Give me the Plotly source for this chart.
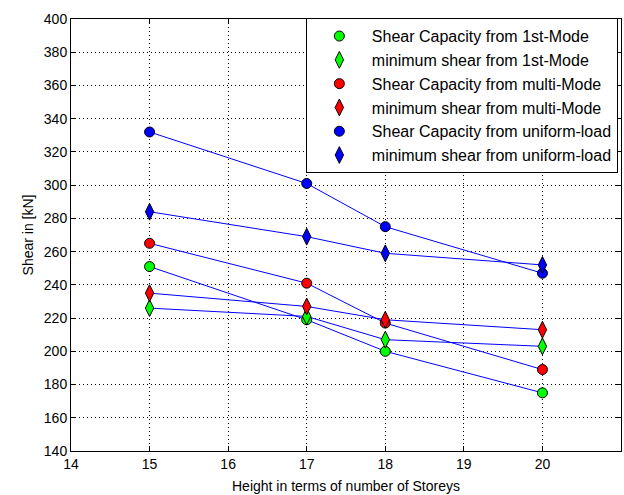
import plotly.graph_objects as go

storeys = [15, 17, 18, 20]

cap_1st = [251, 219, 200, 175]
min_1st = [226, 221, 207, 203]
cap_multi = [265, 241, 217, 189]
min_multi = [235, 227, 219, 213]
cap_uniform = [332, 301, 275, 247]
min_uniform = [284, 269, 259, 252]

series = [
    ("Shear Capacity from 1st-Mode", cap_1st, "circle", "#00ff00"),
    ("minimum shear from 1st-Mode", min_1st, "diamond-tall", "#00ff00"),
    ("Shear Capacity from multi-Mode", cap_multi, "circle", "#ff0000"),
    ("minimum shear from multi-Mode", min_multi, "diamond-tall", "#ff0000"),
    ("Shear Capacity from uniform-load", cap_uniform, "circle", "#0000ff"),
    ("minimum shear from uniform-load", min_uniform, "diamond-tall", "#0000ff"),
]

x_ticks = [14, 15, 16, 17, 18, 19, 20, 21]
y_ticks = list(range(140, 401, 20))

FONT = "Liberation Sans, Arial, sans-serif"

fig = go.Figure()
for name, vals, sym, col in series:
    fig.add_trace(go.Scatter(
        x=storeys, y=vals, mode="lines", showlegend=False,
        line=dict(color="#0000ff", width=1), hoverinfo="skip"))
    fig.add_trace(go.Scatter(
        x=storeys, y=vals, mode="markers", name=name,
        marker=dict(symbol=sym, color=col, size=10 if sym == "circle" else 12,
                    line=dict(color="black", width=1))))

axis_common = dict(
    showline=True, linecolor="black", linewidth=1, mirror="ticks",
    ticks="inside", ticklen=5, tickcolor="black",
    showgrid=True, gridcolor="black", gridwidth=1, griddash="1px,3px",
    zeroline=False, tickfont=dict(family=FONT, size=14, color="black"),
)

fig.update_layout(
    width=624, height=495,
    margin=dict(l=71, r=3, t=19, b=44),
    paper_bgcolor="white", plot_bgcolor="white",
    font=dict(family=FONT, size=14, color="black"),
    xaxis=dict(range=[14, 21], tickvals=x_ticks, **axis_common,
               title=dict(text="Height in terms of number of Storeys",
                          font=dict(family=FONT, size=14), standoff=10)),
    yaxis=dict(range=[140, 400], tickvals=y_ticks, **axis_common,
               title=dict(text="Shear in [kN]",
                          font=dict(family=FONT, size=14), standoff=6)),
    legend=dict(x=0.427, y=1.002, xanchor="left", yanchor="top",
                bgcolor="white", bordercolor="black", borderwidth=1,
                font=dict(family=FONT, size=16, color="black"),
                itemwidth=55, tracegroupgap=0),
    showlegend=True,
)
fig.update_xaxes(automargin=False)
fig.update_yaxes(automargin=False)

fig.write_html("out.html")
